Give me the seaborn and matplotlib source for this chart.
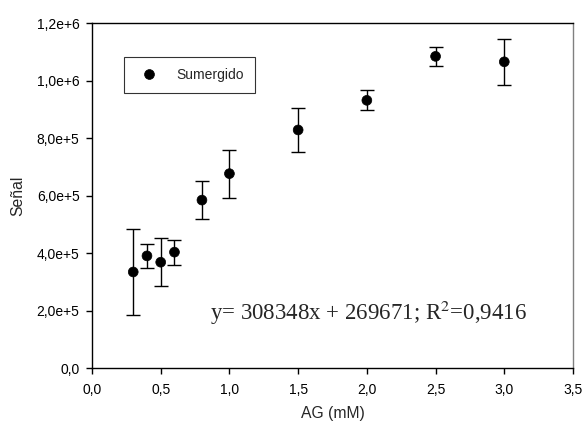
import matplotlib
matplotlib.use("Agg")
import matplotlib.pyplot as plt
import seaborn as sns
import pandas as pd

ag_mM = [0.3, 0.4, 0.5, 0.6, 0.8, 1.0, 1.5, 2.0, 2.5, 3.0]
senal = [334000, 390000, 368000, 403000, 584000, 676000, 828000, 931000, 1084000, 1065000]
error = [149000, 41000, 83000, 43000, 66000, 84000, 75000, 35000, 34000, 80000]
x_ticks = [0.0, 0.5, 1.0, 1.5, 2.0, 2.5, 3.0, 3.5]
y_ticks = [0, 200000, 400000, 600000, 800000, 1000000, 1200000]
y_tick_labels = ["0,0", "2,0e+5", "4,0e+5", "6,0e+5", "8,0e+5", "1,0e+6", "1,2e+6"]
x_tick_labels = ["0,0", "0,5", "1,0", "1,5", "2,0", "2,5", "3,0", "3,5"]

df = pd.DataFrame({"AG (mM)": ag_mM, "Señal": senal, "err": error, "serie": "Sumergido"})

sns.set_theme(style="ticks")
plt.rcParams["font.family"] = ["Liberation Sans", "DejaVu Sans"]

fig = plt.figure(figsize=(5.82, 4.23), dpi=100)
ax = fig.add_axes([92 / 582, 1 - 368 / 423, (573 - 92) / 582, (368 - 23) / 423])

ax.errorbar(df["AG (mM)"], df["Señal"], yerr=df["err"], fmt="none",
            ecolor="black", elinewidth=1.0, capsize=5, capthick=1.0, zorder=2)
sns.scatterplot(data=df, x="AG (mM)", y="Señal", hue="serie", palette=["black"],
                s=50, edgecolor="black", linewidth=0.5, ax=ax, zorder=3)

ax.set_xlim(0, 3.5)
ax.set_ylim(0, 1200000)
ax.set_xticks(x_ticks)
ax.set_xticklabels(x_tick_labels)
ax.set_yticks(y_ticks)
ax.set_yticklabels(y_tick_labels)
ax.tick_params(axis="both", labelsize=10, direction="out", length=4, width=1, colors="black")
ax.tick_params(axis="x", pad=7)
ax.tick_params(axis="y", pad=5)
ax.set_xlabel("AG (mM)", fontsize=11.3, labelpad=6)
ax.set_ylabel("Señal", fontsize=11.3, labelpad=8)

for side in ["left", "bottom", "top"]:
    ax.spines[side].set_color("black")
    ax.spines[side].set_linewidth(1.0)
ax.spines["right"].set_color("#808080")
ax.spines["right"].set_linewidth(1.0)

leg = ax.legend(loc="upper left", bbox_to_anchor=(32 / 481, 1 - 34 / 345),
                frameon=True, fancybox=False, edgecolor="black", fontsize=10,
                handletextpad=1.0, borderpad=0.8, borderaxespad=0, markerscale=1.0)
leg.get_frame().set_linewidth(0.8)
leg.set_title(None)

ax.text(2.015, 191000, r"y= 308348x + 269671; R$^2$=0,9416",
        fontsize=16.5, family="Liberation Serif", ha="center", va="center",
        math_fontfamily="stix")

fig.savefig("out.png", dpi=100)
